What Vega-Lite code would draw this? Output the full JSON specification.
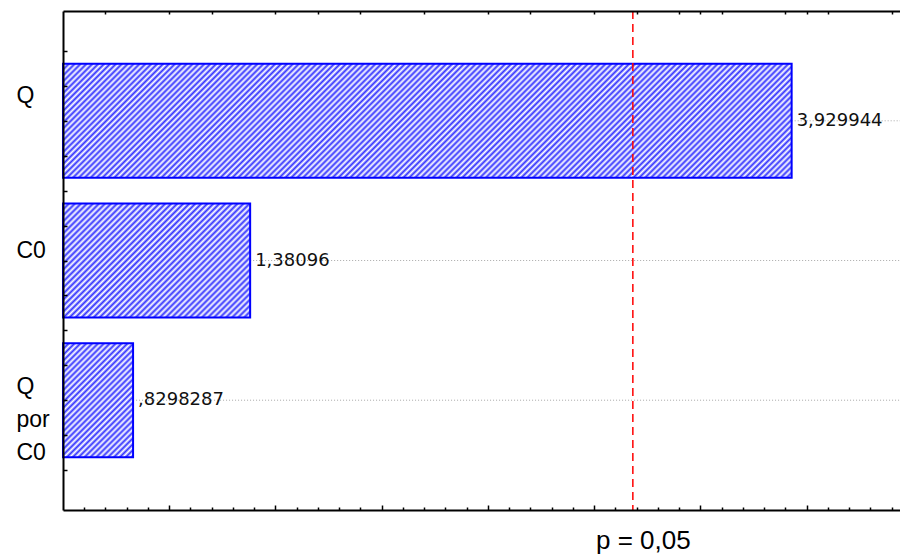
{
"$schema": "https://vega.github.io/schema/vega-lite/v6.json",
"width": 837,
"height": 499,
"autosize": {"type": "none"},
"padding": {"left": 63, "top": 11, "right": 0, "bottom": 49},
"background": "#ffffff",
"config": {"view": {"stroke": null}, "axis": {"grid": false, "domainColor": "#000000", "tickColor": "#000000", "labelColor": "#000000"}},
"datasets": {
"effects": [
{"effect": "Q", "rank": 1, "t": 3.929944, "label": "3,929944"},
{"effect": "C0", "rank": 2, "t": 1.38096, "label": "1,38096"},
{"effect": "Q por C0", "rank": 3, "t": 0.8298287, "label": ",8298287"}
],
"critical": [{"t": 3.182446, "label": "p = 0,05"}]
},
"layer": [
{
"data": {"name": "effects"},
"mark": {"type": "rule", "color": "#a8a8a8", "strokeDash": [1, 2], "strokeWidth": 1},
"encoding": {
"x": {"field": "t", "type": "quantitative", "scale": {"domain": [0.5, 4.44]}, "axis": {"orient": "bottom", "values": [1, 1.5, 2, 2.5, 3, 3.5, 4], "tickSize": -5, "tickWidth": 1.5, "labels": false, "domain": true, "domainWidth": 2, "title": null, "zindex": 1}},
"x2": {"datum": 4.44},
"y": {"field": "rank", "type": "quantitative", "scale": {"domain": [0.25, 3.75], "reverse": true}, "axis": {"orient": "left", "values": [0.5, 0.75, 1, 1.25, 1.5, 1.75, 2, 2.25, 2.5, 2.75, 3, 3.25, 3.5], "tickSize": -4, "tickWidth": 1.5, "domain": true, "domainWidth": 2, "labelExpr": "datum.value === 1 ? 'Q' : datum.value === 2 ? 'C0' : datum.value === 3 ? ['Q', 'por', 'C0'] : ''", "labelAlign": "left", "labelBaseline": "middle", "labelPadding": 51, "labelFont": "Liberation Sans", "labelFontSize": 23, "labelLineHeight": 33, "labelOverlap": false, "labelBound": false, "labelOffset": {"condition": [{"test": "datum.value === 1", "value": -25}, {"test": "datum.value === 2", "value": -10}], "value": -14}, "title": null, "zindex": 1}}
}
},
{
"data": {"name": "effects"},
"transform": [{"filter": "datum.effect === 'Q'"}],
"mark": {"type": "bar", "orient": "horizontal", "size": 114, "stroke": "#0000ff", "strokeWidth": 2, "fill": {"gradient": "linear", "x1": 0, "y1": 0, "x2": 1.1288, "y2": 0.1766, "stops": [
{"offset":0,"color":"#33f"},{"offset":0.0035,"color":"#fff"},{"offset":0.007,"color":"#33f"},{"offset":0.0105,"color":"#fff"},{"offset":0.014,"color":"#33f"},{"offset":0.0175,"color":"#fff"},{"offset":0.021,"color":"#33f"},{"offset":0.0245,"color":"#fff"},{"offset":0.028,"color":"#33f"},{"offset":0.0315,"color":"#fff"},{"offset":0.035,"color":"#33f"},{"offset":0.0385,"color":"#fff"},{"offset":0.042,"color":"#33f"},{"offset":0.0455,"color":"#fff"},{"offset":0.049,"color":"#33f"},{"offset":0.0525,"color":"#fff"},{"offset":0.056,"color":"#33f"},{"offset":0.0595,"color":"#fff"},{"offset":0.063,"color":"#33f"},{"offset":0.0665,"color":"#fff"},
{"offset":0.07,"color":"#33f"},{"offset":0.0735,"color":"#fff"},{"offset":0.077,"color":"#33f"},{"offset":0.0805,"color":"#fff"},{"offset":0.084,"color":"#33f"},{"offset":0.0875,"color":"#fff"},{"offset":0.091,"color":"#33f"},{"offset":0.0945,"color":"#fff"},{"offset":0.098,"color":"#33f"},{"offset":0.1015,"color":"#fff"},{"offset":0.105,"color":"#33f"},{"offset":0.1085,"color":"#fff"},{"offset":0.112,"color":"#33f"},{"offset":0.1155,"color":"#fff"},{"offset":0.119,"color":"#33f"},{"offset":0.1225,"color":"#fff"},{"offset":0.126,"color":"#33f"},{"offset":0.1295,"color":"#fff"},{"offset":0.133,"color":"#33f"},{"offset":0.1365,"color":"#fff"},
{"offset":0.14,"color":"#33f"},{"offset":0.1435,"color":"#fff"},{"offset":0.147,"color":"#33f"},{"offset":0.1505,"color":"#fff"},{"offset":0.154,"color":"#33f"},{"offset":0.1575,"color":"#fff"},{"offset":0.161,"color":"#33f"},{"offset":0.1645,"color":"#fff"},{"offset":0.168,"color":"#33f"},{"offset":0.1715,"color":"#fff"},{"offset":0.175,"color":"#33f"},{"offset":0.1785,"color":"#fff"},{"offset":0.182,"color":"#33f"},{"offset":0.1855,"color":"#fff"},{"offset":0.189,"color":"#33f"},{"offset":0.1925,"color":"#fff"},{"offset":0.196,"color":"#33f"},{"offset":0.1995,"color":"#fff"},{"offset":0.203,"color":"#33f"},{"offset":0.2065,"color":"#fff"},
{"offset":0.21,"color":"#33f"},{"offset":0.2135,"color":"#fff"},{"offset":0.217,"color":"#33f"},{"offset":0.2205,"color":"#fff"},{"offset":0.224,"color":"#33f"},{"offset":0.2275,"color":"#fff"},{"offset":0.231,"color":"#33f"},{"offset":0.2345,"color":"#fff"},{"offset":0.238,"color":"#33f"},{"offset":0.2415,"color":"#fff"},{"offset":0.245,"color":"#33f"},{"offset":0.2485,"color":"#fff"},{"offset":0.252,"color":"#33f"},{"offset":0.2555,"color":"#fff"},{"offset":0.259,"color":"#33f"},{"offset":0.2625,"color":"#fff"},{"offset":0.266,"color":"#33f"},{"offset":0.2695,"color":"#fff"},{"offset":0.273,"color":"#33f"},{"offset":0.2765,"color":"#fff"},
{"offset":0.28,"color":"#33f"},{"offset":0.2835,"color":"#fff"},{"offset":0.287,"color":"#33f"},{"offset":0.2905,"color":"#fff"},{"offset":0.294,"color":"#33f"},{"offset":0.2975,"color":"#fff"},{"offset":0.301,"color":"#33f"},{"offset":0.3045,"color":"#fff"},{"offset":0.308,"color":"#33f"},{"offset":0.3115,"color":"#fff"},{"offset":0.315,"color":"#33f"},{"offset":0.3185,"color":"#fff"},{"offset":0.322,"color":"#33f"},{"offset":0.3255,"color":"#fff"},{"offset":0.329,"color":"#33f"},{"offset":0.3325,"color":"#fff"},{"offset":0.336,"color":"#33f"},{"offset":0.3395,"color":"#fff"},{"offset":0.343,"color":"#33f"},{"offset":0.3465,"color":"#fff"},
{"offset":0.35,"color":"#33f"},{"offset":0.3535,"color":"#fff"},{"offset":0.357,"color":"#33f"},{"offset":0.3605,"color":"#fff"},{"offset":0.364,"color":"#33f"},{"offset":0.3675,"color":"#fff"},{"offset":0.371,"color":"#33f"},{"offset":0.3745,"color":"#fff"},{"offset":0.378,"color":"#33f"},{"offset":0.3815,"color":"#fff"},{"offset":0.385,"color":"#33f"},{"offset":0.3885,"color":"#fff"},{"offset":0.392,"color":"#33f"},{"offset":0.3955,"color":"#fff"},{"offset":0.399,"color":"#33f"},{"offset":0.4025,"color":"#fff"},{"offset":0.406,"color":"#33f"},{"offset":0.4095,"color":"#fff"},{"offset":0.413,"color":"#33f"},{"offset":0.4165,"color":"#fff"},
{"offset":0.42,"color":"#33f"},{"offset":0.4235,"color":"#fff"},{"offset":0.427,"color":"#33f"},{"offset":0.4305,"color":"#fff"},{"offset":0.434,"color":"#33f"},{"offset":0.4375,"color":"#fff"},{"offset":0.441,"color":"#33f"},{"offset":0.4445,"color":"#fff"},{"offset":0.448,"color":"#33f"},{"offset":0.4515,"color":"#fff"},{"offset":0.455,"color":"#33f"},{"offset":0.4585,"color":"#fff"},{"offset":0.462,"color":"#33f"},{"offset":0.4655,"color":"#fff"},{"offset":0.469,"color":"#33f"},{"offset":0.4725,"color":"#fff"},{"offset":0.476,"color":"#33f"},{"offset":0.4795,"color":"#fff"},{"offset":0.483,"color":"#33f"},{"offset":0.4865,"color":"#fff"},
{"offset":0.49,"color":"#33f"},{"offset":0.4935,"color":"#fff"},{"offset":0.497,"color":"#33f"},{"offset":0.5005,"color":"#fff"},{"offset":0.504,"color":"#33f"},{"offset":0.5075,"color":"#fff"},{"offset":0.511,"color":"#33f"},{"offset":0.5145,"color":"#fff"},{"offset":0.518,"color":"#33f"},{"offset":0.5215,"color":"#fff"},{"offset":0.525,"color":"#33f"},{"offset":0.5285,"color":"#fff"},{"offset":0.532,"color":"#33f"},{"offset":0.5355,"color":"#fff"},{"offset":0.539,"color":"#33f"},{"offset":0.5425,"color":"#fff"},{"offset":0.546,"color":"#33f"},{"offset":0.5495,"color":"#fff"},{"offset":0.553,"color":"#33f"},{"offset":0.5565,"color":"#fff"},
{"offset":0.56,"color":"#33f"},{"offset":0.5635,"color":"#fff"},{"offset":0.567,"color":"#33f"},{"offset":0.5705,"color":"#fff"},{"offset":0.574,"color":"#33f"},{"offset":0.5775,"color":"#fff"},{"offset":0.581,"color":"#33f"},{"offset":0.5845,"color":"#fff"},{"offset":0.588,"color":"#33f"},{"offset":0.5915,"color":"#fff"},{"offset":0.595,"color":"#33f"},{"offset":0.5985,"color":"#fff"},{"offset":0.602,"color":"#33f"},{"offset":0.6055,"color":"#fff"},{"offset":0.609,"color":"#33f"},{"offset":0.6125,"color":"#fff"},{"offset":0.616,"color":"#33f"},{"offset":0.6195,"color":"#fff"},{"offset":0.623,"color":"#33f"},{"offset":0.6265,"color":"#fff"},
{"offset":0.63,"color":"#33f"},{"offset":0.6335,"color":"#fff"},{"offset":0.637,"color":"#33f"},{"offset":0.6405,"color":"#fff"},{"offset":0.644,"color":"#33f"},{"offset":0.6475,"color":"#fff"},{"offset":0.651,"color":"#33f"},{"offset":0.6545,"color":"#fff"},{"offset":0.658,"color":"#33f"},{"offset":0.6615,"color":"#fff"},{"offset":0.665,"color":"#33f"},{"offset":0.6685,"color":"#fff"},{"offset":0.672,"color":"#33f"},{"offset":0.6755,"color":"#fff"},{"offset":0.679,"color":"#33f"},{"offset":0.6825,"color":"#fff"},{"offset":0.686,"color":"#33f"},{"offset":0.6895,"color":"#fff"},{"offset":0.693,"color":"#33f"},{"offset":0.6965,"color":"#fff"},
{"offset":0.7,"color":"#33f"},{"offset":0.7035,"color":"#fff"},{"offset":0.707,"color":"#33f"},{"offset":0.7105,"color":"#fff"},{"offset":0.714,"color":"#33f"},{"offset":0.7175,"color":"#fff"},{"offset":0.721,"color":"#33f"},{"offset":0.7245,"color":"#fff"},{"offset":0.728,"color":"#33f"},{"offset":0.7315,"color":"#fff"},{"offset":0.735,"color":"#33f"},{"offset":0.7385,"color":"#fff"},{"offset":0.742,"color":"#33f"},{"offset":0.7455,"color":"#fff"},{"offset":0.749,"color":"#33f"},{"offset":0.7525,"color":"#fff"},{"offset":0.756,"color":"#33f"},{"offset":0.7595,"color":"#fff"},{"offset":0.763,"color":"#33f"},{"offset":0.7665,"color":"#fff"},
{"offset":0.77,"color":"#33f"},{"offset":0.7735,"color":"#fff"},{"offset":0.777,"color":"#33f"},{"offset":0.7805,"color":"#fff"},{"offset":0.784,"color":"#33f"},{"offset":0.7875,"color":"#fff"},{"offset":0.791,"color":"#33f"},{"offset":0.7945,"color":"#fff"},{"offset":0.798,"color":"#33f"},{"offset":0.8015,"color":"#fff"},{"offset":0.805,"color":"#33f"},{"offset":0.8085,"color":"#fff"},{"offset":0.812,"color":"#33f"},{"offset":0.8155,"color":"#fff"},{"offset":0.819,"color":"#33f"},{"offset":0.8225,"color":"#fff"},{"offset":0.826,"color":"#33f"},{"offset":0.8295,"color":"#fff"},{"offset":0.833,"color":"#33f"},{"offset":0.8365,"color":"#fff"},
{"offset":0.84,"color":"#33f"},{"offset":0.8435,"color":"#fff"},{"offset":0.847,"color":"#33f"},{"offset":0.8505,"color":"#fff"},{"offset":0.854,"color":"#33f"},{"offset":0.8575,"color":"#fff"},{"offset":0.861,"color":"#33f"},{"offset":0.8645,"color":"#fff"},{"offset":0.868,"color":"#33f"},{"offset":0.8715,"color":"#fff"},{"offset":0.875,"color":"#33f"},{"offset":0.8785,"color":"#fff"},{"offset":0.882,"color":"#33f"},{"offset":0.8855,"color":"#fff"},{"offset":0.889,"color":"#33f"},{"offset":0.8925,"color":"#fff"},{"offset":0.896,"color":"#33f"},{"offset":0.8995,"color":"#fff"},{"offset":0.903,"color":"#33f"},{"offset":0.9065,"color":"#fff"},
{"offset":0.91,"color":"#33f"},{"offset":0.9135,"color":"#fff"},{"offset":0.917,"color":"#33f"},{"offset":0.9205,"color":"#fff"},{"offset":0.924,"color":"#33f"},{"offset":0.9275,"color":"#fff"},{"offset":0.931,"color":"#33f"},{"offset":0.9345,"color":"#fff"},{"offset":0.938,"color":"#33f"},{"offset":0.9415,"color":"#fff"},{"offset":0.945,"color":"#33f"},{"offset":0.9485,"color":"#fff"},{"offset":0.952,"color":"#33f"},{"offset":0.9555,"color":"#fff"},{"offset":0.959,"color":"#33f"},{"offset":0.9625,"color":"#fff"},{"offset":0.966,"color":"#33f"},{"offset":0.9695,"color":"#fff"},{"offset":0.973,"color":"#33f"},{"offset":0.9765,"color":"#fff"},
{"offset":0.98,"color":"#33f"},{"offset":0.9835,"color":"#fff"},{"offset":0.987,"color":"#33f"},{"offset":0.9905,"color":"#fff"},{"offset":0.994,"color":"#33f"},{"offset":0.9975,"color":"#fff"}
]}},
"encoding": {
"x": {"field": "t", "type": "quantitative", "scale": {"domain": [0.5, 4.44]}, "axis": {"orient": "bottom", "values": [0.6, 0.7, 0.8, 0.9, 1.1, 1.2, 1.3, 1.4, 1.6, 1.7, 1.8, 1.9, 2.1, 2.2, 2.3, 2.4, 2.6, 2.7, 2.8, 2.9, 3.1, 3.2, 3.3, 3.4, 3.6, 3.7, 3.8, 3.9, 4.1, 4.2, 4.3, 4.4], "tickSize": -3, "tickWidth": 1.5, "labels": false, "domain": false, "title": null, "zindex": 1}},
"x2": {"datum": 0.5},
"y": {"field": "rank", "type": "quantitative", "scale": {"domain": [0.25, 3.75], "reverse": true}, "axis": null}
}
},
{
"data": {"name": "effects"},
"transform": [{"filter": "datum.effect === 'C0'"}],
"mark": {"type": "bar", "orient": "horizontal", "size": 114, "stroke": "#0000ff", "strokeWidth": 2, "fill": {"gradient": "linear", "x1": 0, "y1": 0, "x2": 1.1737, "y2": 0.7148, "stops": [
{"offset":0,"color":"#33f"},{"offset":0.01,"color":"#fff"},{"offset":0.02,"color":"#33f"},{"offset":0.03,"color":"#fff"},{"offset":0.04,"color":"#33f"},{"offset":0.05,"color":"#fff"},{"offset":0.06,"color":"#33f"},{"offset":0.07,"color":"#fff"},{"offset":0.08,"color":"#33f"},{"offset":0.09,"color":"#fff"},
{"offset":0.1,"color":"#33f"},{"offset":0.11,"color":"#fff"},{"offset":0.12,"color":"#33f"},{"offset":0.13,"color":"#fff"},{"offset":0.14,"color":"#33f"},{"offset":0.15,"color":"#fff"},{"offset":0.16,"color":"#33f"},{"offset":0.17,"color":"#fff"},{"offset":0.18,"color":"#33f"},{"offset":0.19,"color":"#fff"},
{"offset":0.2,"color":"#33f"},{"offset":0.21,"color":"#fff"},{"offset":0.22,"color":"#33f"},{"offset":0.23,"color":"#fff"},{"offset":0.24,"color":"#33f"},{"offset":0.25,"color":"#fff"},{"offset":0.26,"color":"#33f"},{"offset":0.27,"color":"#fff"},{"offset":0.28,"color":"#33f"},{"offset":0.29,"color":"#fff"},
{"offset":0.3,"color":"#33f"},{"offset":0.31,"color":"#fff"},{"offset":0.32,"color":"#33f"},{"offset":0.33,"color":"#fff"},{"offset":0.34,"color":"#33f"},{"offset":0.35,"color":"#fff"},{"offset":0.36,"color":"#33f"},{"offset":0.37,"color":"#fff"},{"offset":0.38,"color":"#33f"},{"offset":0.39,"color":"#fff"},
{"offset":0.4,"color":"#33f"},{"offset":0.41,"color":"#fff"},{"offset":0.42,"color":"#33f"},{"offset":0.43,"color":"#fff"},{"offset":0.44,"color":"#33f"},{"offset":0.45,"color":"#fff"},{"offset":0.46,"color":"#33f"},{"offset":0.47,"color":"#fff"},{"offset":0.48,"color":"#33f"},{"offset":0.49,"color":"#fff"},
{"offset":0.5,"color":"#33f"},{"offset":0.51,"color":"#fff"},{"offset":0.52,"color":"#33f"},{"offset":0.53,"color":"#fff"},{"offset":0.54,"color":"#33f"},{"offset":0.55,"color":"#fff"},{"offset":0.56,"color":"#33f"},{"offset":0.57,"color":"#fff"},{"offset":0.58,"color":"#33f"},{"offset":0.59,"color":"#fff"},
{"offset":0.6,"color":"#33f"},{"offset":0.61,"color":"#fff"},{"offset":0.62,"color":"#33f"},{"offset":0.63,"color":"#fff"},{"offset":0.64,"color":"#33f"},{"offset":0.65,"color":"#fff"},{"offset":0.66,"color":"#33f"},{"offset":0.67,"color":"#fff"},{"offset":0.68,"color":"#33f"},{"offset":0.69,"color":"#fff"},
{"offset":0.7,"color":"#33f"},{"offset":0.71,"color":"#fff"},{"offset":0.72,"color":"#33f"},{"offset":0.73,"color":"#fff"},{"offset":0.74,"color":"#33f"},{"offset":0.75,"color":"#fff"},{"offset":0.76,"color":"#33f"},{"offset":0.77,"color":"#fff"},{"offset":0.78,"color":"#33f"},{"offset":0.79,"color":"#fff"},
{"offset":0.8,"color":"#33f"},{"offset":0.81,"color":"#fff"},{"offset":0.82,"color":"#33f"},{"offset":0.83,"color":"#fff"},{"offset":0.84,"color":"#33f"},{"offset":0.85,"color":"#fff"},{"offset":0.86,"color":"#33f"},{"offset":0.87,"color":"#fff"},{"offset":0.88,"color":"#33f"},{"offset":0.89,"color":"#fff"},
{"offset":0.9,"color":"#33f"},{"offset":0.91,"color":"#fff"},{"offset":0.92,"color":"#33f"},{"offset":0.93,"color":"#fff"},{"offset":0.94,"color":"#33f"},{"offset":0.95,"color":"#fff"},{"offset":0.96,"color":"#33f"},{"offset":0.97,"color":"#fff"},{"offset":0.98,"color":"#33f"},{"offset":0.99,"color":"#fff"},{"offset":1,"color":"#33f"}
]}},
"encoding": {
"x": {"field": "t", "type": "quantitative", "scale": {"domain": [0.5, 4.44]}, "axis": {"orient": "top", "values": [0.7, 1, 1.2, 1.5, 1.7, 1.9, 2.2, 2.5, 2.7, 3, 3.2, 3.4, 3.5, 3.6, 3.9, 4, 4.1, 4.4], "tickSize": -3, "tickWidth": 1.5, "labels": false, "domain": true, "domainWidth": 2, "title": null, "zindex": 1}},
"x2": {"datum": 0.5},
"y": {"field": "rank", "type": "quantitative", "scale": {"domain": [0.25, 3.75], "reverse": true}, "axis": null}
}
},
{
"data": {"name": "effects"},
"transform": [{"filter": "datum.effect === 'Q por C0'"}],
"mark": {"type": "bar", "orient": "horizontal", "size": 114, "stroke": "#0000ff", "strokeWidth": 2, "fill": {"gradient": "linear", "x1": 0, "y1": 0, "x2": 0.7206, "y2": 1.1718, "stops": [
{"offset":0,"color":"#33f"},{"offset":0.016,"color":"#fff"},{"offset":0.032,"color":"#33f"},{"offset":0.048,"color":"#fff"},{"offset":0.064,"color":"#33f"},{"offset":0.08,"color":"#fff"},{"offset":0.096,"color":"#33f"},{"offset":0.112,"color":"#fff"},{"offset":0.128,"color":"#33f"},{"offset":0.144,"color":"#fff"},
{"offset":0.16,"color":"#33f"},{"offset":0.176,"color":"#fff"},{"offset":0.192,"color":"#33f"},{"offset":0.208,"color":"#fff"},{"offset":0.224,"color":"#33f"},{"offset":0.24,"color":"#fff"},{"offset":0.256,"color":"#33f"},{"offset":0.272,"color":"#fff"},{"offset":0.288,"color":"#33f"},{"offset":0.304,"color":"#fff"},
{"offset":0.32,"color":"#33f"},{"offset":0.336,"color":"#fff"},{"offset":0.352,"color":"#33f"},{"offset":0.368,"color":"#fff"},{"offset":0.384,"color":"#33f"},{"offset":0.4,"color":"#fff"},{"offset":0.416,"color":"#33f"},{"offset":0.432,"color":"#fff"},{"offset":0.448,"color":"#33f"},{"offset":0.464,"color":"#fff"},
{"offset":0.48,"color":"#33f"},{"offset":0.496,"color":"#fff"},{"offset":0.512,"color":"#33f"},{"offset":0.528,"color":"#fff"},{"offset":0.544,"color":"#33f"},{"offset":0.56,"color":"#fff"},{"offset":0.576,"color":"#33f"},{"offset":0.592,"color":"#fff"},{"offset":0.608,"color":"#33f"},{"offset":0.624,"color":"#fff"},
{"offset":0.64,"color":"#33f"},{"offset":0.656,"color":"#fff"},{"offset":0.672,"color":"#33f"},{"offset":0.688,"color":"#fff"},{"offset":0.704,"color":"#33f"},{"offset":0.72,"color":"#fff"},{"offset":0.736,"color":"#33f"},{"offset":0.752,"color":"#fff"},{"offset":0.768,"color":"#33f"},{"offset":0.784,"color":"#fff"},
{"offset":0.8,"color":"#33f"},{"offset":0.816,"color":"#fff"},{"offset":0.832,"color":"#33f"},{"offset":0.848,"color":"#fff"},{"offset":0.864,"color":"#33f"},{"offset":0.88,"color":"#fff"},{"offset":0.896,"color":"#33f"},{"offset":0.912,"color":"#fff"},{"offset":0.928,"color":"#33f"},{"offset":0.944,"color":"#fff"},
{"offset":0.96,"color":"#33f"},{"offset":0.976,"color":"#fff"},{"offset":0.992,"color":"#33f"}
]}},
"encoding": {
"x": {"field": "t", "type": "quantitative", "scale": {"domain": [0.5, 4.44]}, "axis": null},
"x2": {"datum": 0.5},
"y": {"field": "rank", "type": "quantitative", "scale": {"domain": [0.25, 3.75], "reverse": true}, "axis": null}
}
},
{
"data": {"name": "effects"},
"mark": {"type": "text", "align": "left", "baseline": "middle", "dx": 5, "font": "DejaVu Sans", "fontSize": 18, "color": "#111111"},
"encoding": {
"x": {"field": "t", "type": "quantitative", "scale": {"domain": [0.5, 4.44]}, "axis": null},
"y": {"field": "rank", "type": "quantitative", "scale": {"domain": [0.25, 3.75], "reverse": true}, "axis": null},
"text": {"field": "label", "type": "nominal"}
}
},
{
"data": {"name": "critical"},
"mark": {"type": "rule", "color": "#ff0000", "strokeDash": [8, 5], "strokeWidth": 1.5},
"encoding": {
"x": {"field": "t", "type": "quantitative", "scale": {"domain": [0.5, 4.44]}, "axis": {"orient": "bottom", "values": [3.182446], "ticks": false, "domain": false, "labelExpr": "'p = 0,05'", "labelFont": "Liberation Sans", "labelFontSize": 26, "labelBaseline": "alphabetic", "labelPadding": 38, "labelOffset": 10, "labelOverlap": false, "labelBound": false, "labelFlush": false, "title": null}}
}
}
],
"resolve": {"axis": {"x": "independent", "y": "independent"}}
}
